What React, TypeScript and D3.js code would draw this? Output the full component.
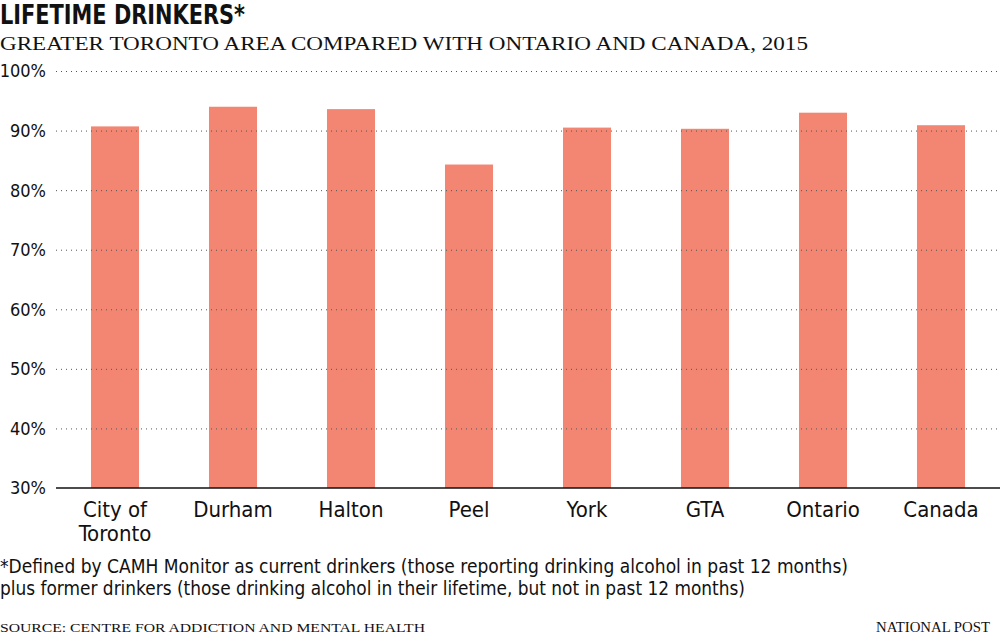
import React from "react";
import * as d3 from "d3";

const categories = ["City of\nToronto", "Durham", "Halton", "Peel", "York", "GTA", "Ontario", "Canada"];
const values = [90.7, 94.0, 93.6, 84.3, 90.5, 90.3, 93.0, 90.9];
const yTicks = [30, 40, 50, 60, 70, 80, 90, 100];

const W = 1000;
const H = 643;
const SANS = "'Liberation Sans Narrow', 'DejaVu Sans Condensed', 'Roboto', sans-serif";
const SERIF = "'Liberation Serif', 'DejaVu Serif', serif";
const BAR = "#f38672";

export default function App() {
  const margin = { top: 71, right: 0, bottom: 155, left: 56 };

  const x = d3
    .scaleBand<string>()
    .domain(categories)
    .range([margin.left, W - margin.right])
    .paddingInner(0.593)
    .paddingOuter(0.2965);

  const y = d3.scaleLinear().domain([30, 100]).range([H - margin.bottom, margin.top]);

  return (
    <svg
      width={W}
      height={H}
      style={{ position: "absolute", left: 0, top: 0, display: "block", background: "#fff" }}
    >
      {/* title */}
      <text
        x={0}
        y={24}
        fontFamily={SANS}
        fontWeight="bold"
        fontSize={26}
        textLength={245}
        lengthAdjust="spacingAndGlyphs"
        fill="#111"
      >
        LIFETIME DRINKERS*
      </text>
      <text
        x={0}
        y={50}
        fontFamily={SERIF}
        fontSize={19}
        textLength={808}
        lengthAdjust="spacingAndGlyphs"
        fill="#111"
      >
        GREATER TORONTO AREA COMPARED WITH ONTARIO AND CANADA, 2015
      </text>

      {/* bars */}
      {categories.map((c, i) => (
        <rect
          key={c}
          x={x(c)}
          y={y(values[i])}
          width={x.bandwidth()}
          height={y(30) - y(values[i])}
          fill={BAR}
        />
      ))}

      {/* gridlines over bars */}
      {yTicks.slice(1).map((t) => (
        <line
          key={t}
          x1={margin.left}
          x2={W}
          y1={y(t) + 0.5}
          y2={y(t) + 0.5}
          stroke="#555"
          strokeWidth={1}
          strokeDasharray="1,4"
        />
      ))}
      <line x1={margin.left} x2={W} y1={y(30)} y2={y(30)} stroke="#111" strokeWidth={1.5} />

      {/* y labels */}
      {yTicks.map((t) => (
        <text
          key={t}
          x={46}
          y={y(t)}
          dy="0.36em"
          textAnchor="end"
          fontFamily={SANS}
          fontSize={18}
          fill="#111"
        >
          {t}%
        </text>
      ))}

      {/* x labels */}
      {categories.map((c) => (
        <text
          key={c}
          x={(x(c) ?? 0) + x.bandwidth() / 2}
          y={517}
          textAnchor="middle"
          fontFamily={SANS}
          fontSize={22}
          fill="#111"
        >
          {c.split("\n").map((line, j) => (
            <tspan key={j} x={(x(c) ?? 0) + x.bandwidth() / 2} dy={j === 0 ? 0 : 24}>
              {line}
            </tspan>
          ))}
        </text>
      ))}

      {/* footnote */}
      <text x={0} y={573} fontFamily={SANS} fontSize={20} textLength={848} lengthAdjust="spacingAndGlyphs" fill="#111">
        *Defined by CAMH Monitor as current drinkers (those reporting drinking alcohol in past 12 months)
      </text>
      <text x={0} y={595} fontFamily={SANS} fontSize={20} textLength={745} lengthAdjust="spacingAndGlyphs" fill="#111">
        plus former drinkers (those drinking alcohol in their lifetime, but not in past 12 months)
      </text>

      {/* source */}
      <text x={0} y={632} fontFamily={SERIF} fontSize={13} textLength={425} lengthAdjust="spacingAndGlyphs" fill="#111">
        SOURCE: CENTRE FOR ADDICTION AND MENTAL HEALTH
      </text>
      <text x={990} y={632} textAnchor="end" fontFamily={SERIF} fontSize={14} textLength={114} lengthAdjust="spacingAndGlyphs" fill="#111">
        NATIONAL POST
      </text>
    </svg>
  );
}
